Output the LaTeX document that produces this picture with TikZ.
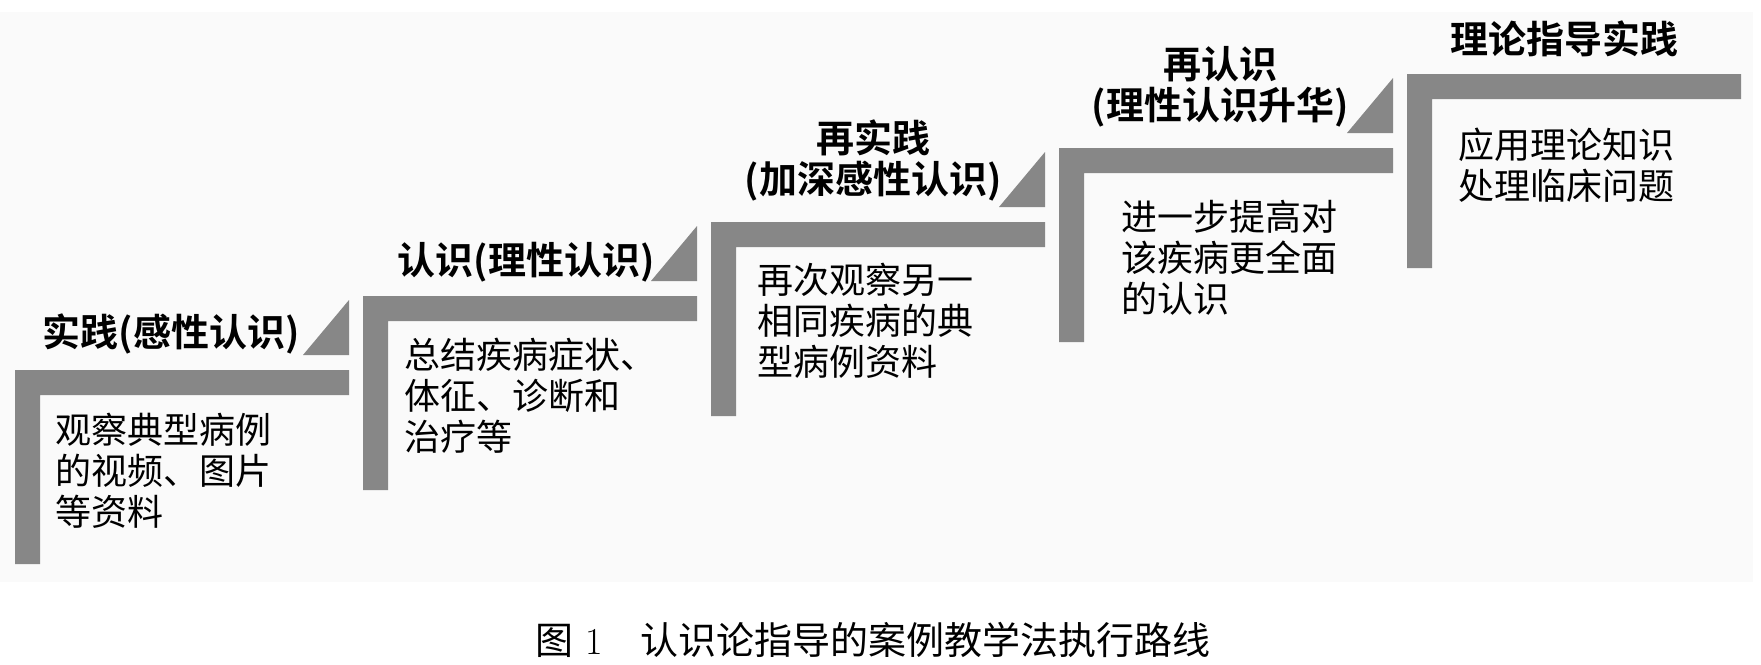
\documentclass[tikz,border=0pt]{standalone}
\usepackage{fontspec}
\newfontfamily\cjk[BoldFont={* Bold}]{Noto Sans CJK SC}
\usepackage{tikz}
\usepackage{xcolor}
\definecolor{bargray}{RGB}{135,135,135}

\begin{document}
\begin{tikzpicture}[x=0.5pt, y=-0.5pt,
  bar/.style={fill=bargray},
  steptitle/.style={font=\cjk\bfseries\fontsize{19pt}{20.5pt}\selectfont, inner sep=0pt, align=center},
  stepbody/.style={font=\cjk\fontsize{18pt}{20.5pt}\selectfont, inner sep=0pt, align=left, anchor=north west}]
\useasboundingbox (0,0) rectangle (1761,664);
\fill[gray!4] (0,12) rectangle (1753,582);  % 背景
% 台阶: 左上角 (15+348k, 370-74k)
\fill[bar] (15,370) rectangle ++(334,25) (15,370) rectangle ++(25,194);
\fill[bar] (363,296) rectangle ++(334,25) (363,296) rectangle ++(25,194);
\fill[bar] (711,222) rectangle ++(334,25) (711,222) rectangle ++(25,194);
\fill[bar] (1059,148) rectangle ++(334,25) (1059,148) rectangle ++(25,194);
\fill[bar] (1407,74) rectangle ++(334,25) (1407,74) rectangle ++(25,194);
% 三角
\fill[bar] (15+288,370-15) -- ++(46,0) -- ++(0,-55) -- cycle;
\fill[bar] (363+288,296-15) -- ++(46,0) -- ++(0,-55) -- cycle;
\fill[bar] (711+288,222-15) -- ++(46,0) -- ++(0,-55) -- cycle;
\fill[bar] (1059+288,148-15) -- ++(46,0) -- ++(0,-55) -- cycle;
% 标题
\node[steptitle, anchor=east] (title1) at (300,334) {实践(感性认识)};
\node[steptitle, anchor=east] (title2) at (655,262) {认识(理性认识)};
\node[steptitle] (title3) at (873,160) {再实践\\(加深感性认识)};
\node[steptitle] (title4) at (1220,87) {再认识\\(理性认识升华)};
\node[steptitle] (title5) at (1564,39) {理论指导实践};
% 内容
\node[stepbody] (body1) at (55,413) {观察典型病例\\的视频、图片\\等资料};
\node[stepbody] (body2) at (404,338) {总结疾病症状、\\体征、诊断和\\治疗等};
\node[stepbody] (body3) at (757,263) {再次观察另一\\相同疾病的典\\型病例资料};
\node[stepbody] (body4) at (1121,200) {进一步提高对\\该疾病更全面\\的认识};
\node[stepbody] (body5) at (1458,128) {应用理论知识\\处理临床问题};
% 图题
\node[font=\fontsize{19pt}{23pt}\selectfont] (caption) at (873,640)
  {{\cjk 图}~1\hspace{1em}{\cjk 认识论指导的案例教学法执行路线}};
\end{tikzpicture}
\end{document}
